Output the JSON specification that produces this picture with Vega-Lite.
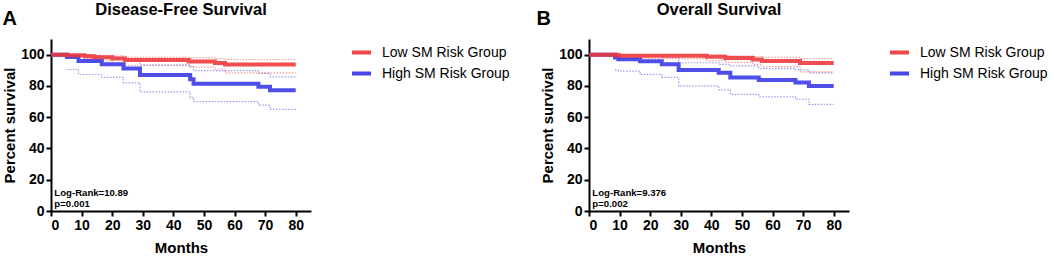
{
  "$schema": "https://vega.github.io/schema/vega-lite/v6.json",
  "background": "white",
  "padding": {"left": 2, "top": 1, "right": 0, "bottom": 0},
  "config": {
    "font": "Liberation Sans",
    "view": {"stroke": null},
    "axis": {
      "grid": false,
      "domainColor": "black",
      "domainWidth": 2,
      "tickColor": "black",
      "tickWidth": 2,
      "tickSize": 5,
      "labelFont": "Liberation Sans",
      "labelFontSize": 14,
      "labelFontWeight": "bold",
      "labelColor": "black",
      "labelPadding": 2,
      "labelOverlap": false,
      "titleFont": "Liberation Sans",
      "titleFontSize": 15,
      "titleFontWeight": "bold",
      "titleColor": "black"
    },
    "legend": {"orient": "none", "legendX": 299, "legendY": 2, "title": null, "symbolType": "stroke", "symbolStrokeWidth": 4, "symbolSize": 361, "labelFontSize": 14, "labelFont": "Liberation Sans", "labelColor": "black", "labelOffset": 9, "rowPadding": 1, "padding": 0, "symbolOpacity": 0.9},
    "title": {"font": "Liberation Sans", "fontSize": 16.5, "fontWeight": "bold", "color": "black", "anchor": "middle", "baseline": "alphabetic", "offset": -9}
  },
  "datasets": {
    "km": [
      {"p":"A","g":"High SM Risk Group","t":0,"s":100,"lo":null,"hi":null},
      {"p":"A","g":"High SM Risk Group","t":5.2,"s":98.5,"lo":90.5,"hi":100},
      {"p":"A","g":"High SM Risk Group","t":9,"s":96,"lo":87.3,"hi":99.5},
      {"p":"A","g":"High SM Risk Group","t":16.6,"s":93.9,"lo":85.4,"hi":98.5},
      {"p":"A","g":"High SM Risk Group","t":23.7,"s":91.2,"lo":82,"hi":97},
      {"p":"A","g":"High SM Risk Group","t":29.1,"s":86.9,"lo":76.2,"hi":93.3},
      {"p":"A","g":"High SM Risk Group","t":45.5,"s":84.3,"lo":72.5,"hi":92.5},
      {"p":"A","g":"High SM Risk Group","t":46.6,"s":81.4,"lo":69.9,"hi":89.8},
      {"p":"A","g":"High SM Risk Group","t":67.8,"s":79.5,"lo":67.7,"hi":88},
      {"p":"A","g":"High SM Risk Group","t":71.6,"s":77.3,"lo":65,"hi":85.8},
      {"p":"A","g":"High SM Risk Group","t":80,"s":77.3,"lo":65,"hi":85.8},
      {"p":"B","g":"High SM Risk Group","t":0,"s":100,"lo":null,"hi":null},
      {"p":"B","g":"High SM Risk Group","t":8.5,"s":98.2,"lo":90.1,"hi":100},
      {"p":"B","g":"High SM Risk Group","t":9.6,"s":97.1,"lo":89.5,"hi":99.6},
      {"p":"B","g":"High SM Risk Group","t":16.7,"s":95.8,"lo":87.4,"hi":99},
      {"p":"B","g":"High SM Risk Group","t":23.8,"s":93.9,"lo":85.4,"hi":98},
      {"p":"B","g":"High SM Risk Group","t":29.3,"s":90.1,"lo":80,"hi":94.8},
      {"p":"B","g":"High SM Risk Group","t":42.4,"s":88.4,"lo":77.5,"hi":93.8},
      {"p":"B","g":"High SM Risk Group","t":46.2,"s":85.4,"lo":74.6,"hi":92.8},
      {"p":"B","g":"High SM Risk Group","t":55.5,"s":83.7,"lo":73,"hi":91},
      {"p":"B","g":"High SM Risk Group","t":67.5,"s":82.2,"lo":71.6,"hi":90.3},
      {"p":"B","g":"High SM Risk Group","t":71.9,"s":80,"lo":68.2,"hi":88.4},
      {"p":"B","g":"High SM Risk Group","t":80,"s":80,"lo":68.2,"hi":88.4},
      {"p":"A","g":"Low SM Risk Group","t":0,"s":100,"lo":null,"hi":null},
      {"p":"A","g":"Low SM Risk Group","t":5.4,"s":99.6,"lo":98.5,"hi":100},
      {"p":"A","g":"Low SM Risk Group","t":11,"s":99,"lo":97.3,"hi":99.9},
      {"p":"A","g":"Low SM Risk Group","t":14,"s":98.3,"lo":96,"hi":99.6},
      {"p":"A","g":"Low SM Risk Group","t":20,"s":97.6,"lo":94.8,"hi":99.2},
      {"p":"A","g":"Low SM Risk Group","t":24.2,"s":96.5,"lo":93.2,"hi":98.3},
      {"p":"A","g":"Low SM Risk Group","t":45,"s":95.6,"lo":92,"hi":97.9},
      {"p":"A","g":"Low SM Risk Group","t":53.6,"s":94.6,"lo":90.8,"hi":97.5},
      {"p":"A","g":"Low SM Risk Group","t":56.9,"s":93.7,"lo":88.4,"hi":96.9},
      {"p":"A","g":"Low SM Risk Group","t":80,"s":93.7,"lo":88.4,"hi":96.9},
      {"p":"B","g":"Low SM Risk Group","t":0,"s":100,"lo":null,"hi":null},
      {"p":"B","g":"Low SM Risk Group","t":9.6,"s":99.3,"lo":97.5,"hi":100},
      {"p":"B","g":"Low SM Risk Group","t":38.6,"s":98.6,"lo":96.2,"hi":99.7},
      {"p":"B","g":"Low SM Risk Group","t":44.6,"s":97.8,"lo":95,"hi":99.3},
      {"p":"B","g":"Low SM Risk Group","t":53.5,"s":96.9,"lo":93.8,"hi":98.8},
      {"p":"B","g":"Low SM Risk Group","t":56.5,"s":96,"lo":92.3,"hi":98.2},
      {"p":"B","g":"Low SM Risk Group","t":69,"s":94.7,"lo":89,"hi":97.5},
      {"p":"B","g":"Low SM Risk Group","t":80,"s":94.7,"lo":89,"hi":97.5}
    ]
  },
  "spacing": 278,
  "bounds": "flush",
  "resolve": {"legend": {"color": "independent"}},
  "hconcat": [
    {
      "width": 260,
      "height": 172,
      "title": "Disease-Free Survival",
      "layer": [
        {
          "data": {"name": "km"},
          "transform": [
            {"filter": "datum.p === 'A'"},
            {"fold": ["lo", "hi"], "as": ["k", "v"]}
          ],
          "mark": {"type": "line", "interpolate": "step-after", "strokeWidth": 1.2, "strokeDash": [1.5, 1.5], "opacity": 0.5},
          "encoding": {
            "x": {"field": "t", "type": "quantitative", "scale": {"domain": [0, 85], "nice": false}, "axis": {"values": [0,10,20,30,40,50,60,70,80], "title": "Months", "titlePadding": 8}},
            "y": {"field": "v", "type": "quantitative", "scale": {"domain": [0, 110], "nice": false}, "axis": {"values": [0,20,40,60,80,100], "title": "Percent survival", "titlePadding": 3}},
            "color": {"field": "g", "type": "nominal", "scale": {"domain": ["Low SM Risk Group", "High SM Risk Group"], "range": ["#EE3535", "#3535E6"]}},
            "detail": {"field": "k"}
          }
        },
        {
          "data": {"name": "km"},
          "transform": [{"filter": "datum.p === 'A'"}],
          "mark": {"type": "line", "interpolate": "step-after", "strokeWidth": 4, "opacity": 0.88},
          "encoding": {
            "x": {"field": "t", "type": "quantitative", "axis": {"values": [0,10,20,30,40,50,60,70,80], "title": "Months", "titlePadding": 8}},
            "y": {"field": "s", "type": "quantitative", "axis": {"values": [0,20,40,60,80,100], "title": "Percent survival", "titlePadding": 3}},
            "color": {"field": "g", "type": "nominal"}
          }
        },
        {
          "data": {"values": [{"n": 1}]},
          "mark": {"type": "text", "text": ["Log-Rank=10.89", "p=0.001"], "align": "left", "baseline": "alphabetic", "fontSize": 9.6, "fontWeight": "bold", "lineHeight": 11, "color": "black"},
          "encoding": {
            "x": {"datum": 1.1, "type": "quantitative", "axis": {"values": [0,10,20,30,40,50,60,70,80], "title": "Months", "titlePadding": 8}},
            "y": {"datum": 9.6, "type": "quantitative", "axis": {"values": [0,20,40,60,80,100], "title": "Percent survival", "titlePadding": 3}}
          }
        },
        {
          "data": {"values": [{"n": 1}]},
          "mark": {"type": "text", "text": "A", "align": "left", "baseline": "alphabetic", "fontSize": 20, "fontWeight": "bold", "color": "black"},
          "encoding": {
            "x": {"datum": -15.85, "type": "quantitative", "axis": {"values": [0,10,20,30,40,50,60,70,80], "title": "Months", "titlePadding": 8}},
            "y": {"datum": 118.8, "type": "quantitative", "axis": {"values": [0,20,40,60,80,100], "title": "Percent survival", "titlePadding": 3}}
          }
        }
      ]
    },
    {
      "width": 260,
      "height": 172,
      "title": "Overall Survival",
      "layer": [
        {
          "data": {"name": "km"},
          "transform": [
            {"filter": "datum.p === 'B'"},
            {"fold": ["lo", "hi"], "as": ["k", "v"]}
          ],
          "mark": {"type": "line", "interpolate": "step-after", "strokeWidth": 1.2, "strokeDash": [1.5, 1.5], "opacity": 0.5},
          "encoding": {
            "x": {"field": "t", "type": "quantitative", "scale": {"domain": [0, 85], "nice": false}, "axis": {"values": [0,10,20,30,40,50,60,70,80], "title": "Months", "titlePadding": 8}},
            "y": {"field": "v", "type": "quantitative", "scale": {"domain": [0, 110], "nice": false}, "axis": {"values": [0,20,40,60,80,100], "title": "Percent survival", "titlePadding": 3}},
            "color": {"field": "g", "type": "nominal", "scale": {"domain": ["Low SM Risk Group", "High SM Risk Group"], "range": ["#EE3535", "#3535E6"]}},
            "detail": {"field": "k"}
          }
        },
        {
          "data": {"name": "km"},
          "transform": [{"filter": "datum.p === 'B'"}],
          "mark": {"type": "line", "interpolate": "step-after", "strokeWidth": 4, "opacity": 0.88},
          "encoding": {
            "x": {"field": "t", "type": "quantitative", "axis": {"values": [0,10,20,30,40,50,60,70,80], "title": "Months", "titlePadding": 8}},
            "y": {"field": "s", "type": "quantitative", "axis": {"values": [0,20,40,60,80,100], "title": "Percent survival", "titlePadding": 3}},
            "color": {"field": "g", "type": "nominal"}
          }
        },
        {
          "data": {"values": [{"n": 1}]},
          "mark": {"type": "text", "text": ["Log-Rank=9.376", "p=0.002"], "align": "left", "baseline": "alphabetic", "fontSize": 9.6, "fontWeight": "bold", "lineHeight": 11, "color": "black"},
          "encoding": {
            "x": {"datum": 1.1, "type": "quantitative", "axis": {"values": [0,10,20,30,40,50,60,70,80], "title": "Months", "titlePadding": 8}},
            "y": {"datum": 9.6, "type": "quantitative", "axis": {"values": [0,20,40,60,80,100], "title": "Percent survival", "titlePadding": 3}}
          }
        },
        {
          "data": {"values": [{"n": 1}]},
          "mark": {"type": "text", "text": "B", "align": "left", "baseline": "alphabetic", "fontSize": 20, "fontWeight": "bold", "color": "black"},
          "encoding": {
            "x": {"datum": -17.2, "type": "quantitative", "axis": {"values": [0,10,20,30,40,50,60,70,80], "title": "Months", "titlePadding": 8}},
            "y": {"datum": 118.8, "type": "quantitative", "axis": {"values": [0,20,40,60,80,100], "title": "Percent survival", "titlePadding": 3}}
          }
        }
      ]
    }
  ]
}
